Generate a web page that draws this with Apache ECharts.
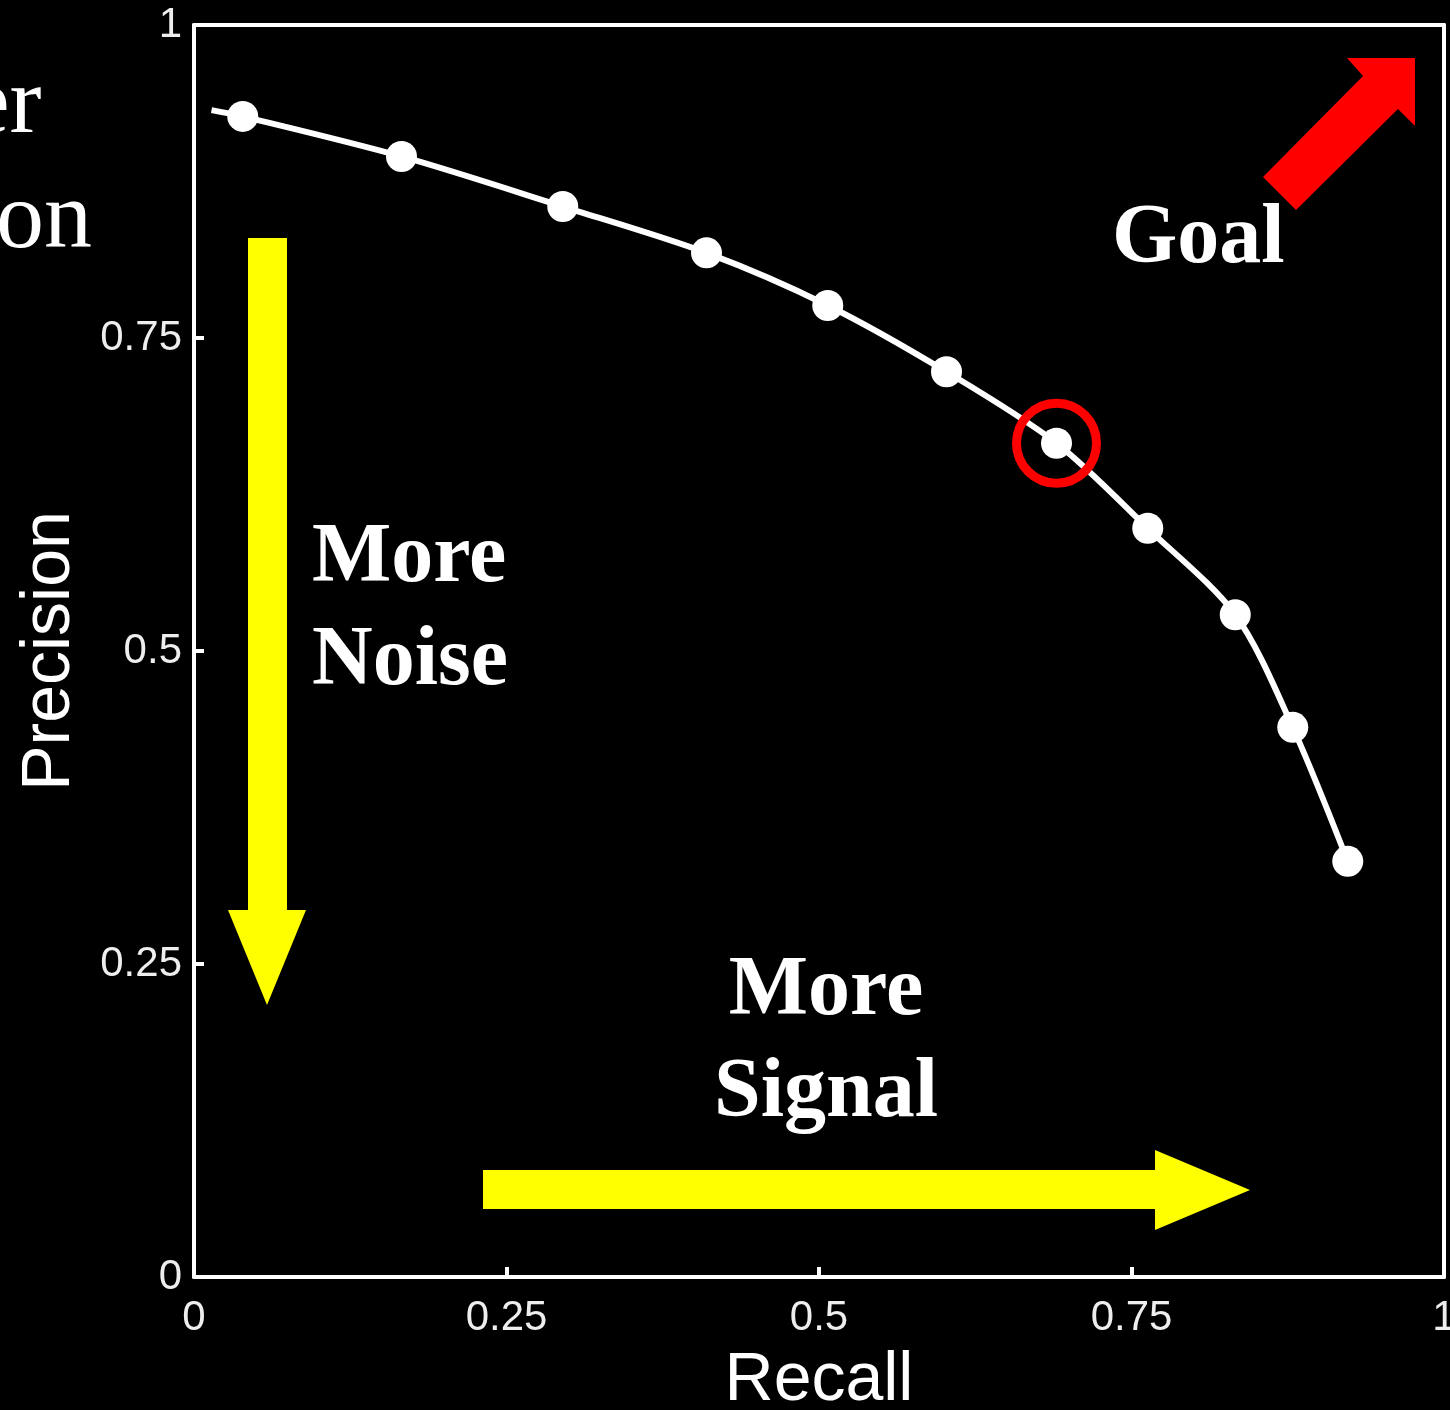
<!DOCTYPE html>
<html>
<head>
<meta charset="utf-8">
<script src="https://cdn.jsdelivr.net/npm/echarts@6/dist/echarts.min.js"></script>
<style>
  html, body { margin: 0; padding: 0; background: #000; }
  #main { width: 1450px; height: 1410px; }
</style>
</head>
<body>
<div id="main"></div>
<script>
// precision / recall curve (first point is the line start, no marker)
let recall = [0.014, 0.039, 0.166, 0.295, 0.410, 0.507, 0.602, 0.690, 0.763, 0.833, 0.879, 0.923];
let precision = [0.932, 0.927, 0.895, 0.855, 0.818, 0.776, 0.723, 0.666, 0.598, 0.529, 0.439, 0.332];
let highlight = [0.690, 0.666]; // circled operating point
let ticks = [0, 0.25, 0.5, 0.75, 1];

let chart = echarts.init(document.getElementById('main'));

let curve = recall.map(function (r, i) {
  if (i === 0) {
    return { value: [r, precision[i]], symbol: 'none' };
  }
  return [r, precision[i]];
});

function tickLabel(v) {
  return ticks.indexOf(v) >= 0 ? String(v) : '';
}

let axisCommon = {
  type: 'value',
  min: 0,
  max: 1,
  interval: 0.25,
  splitLine: { show: false },
  axisLine: { show: true, onZero: false, lineStyle: { color: '#fff', width: 4 } },
  axisTick: { show: true, inside: true, length: 10, lineStyle: { color: '#fff', width: 4 } },
  nameTextStyle: { color: '#fff', fontFamily: 'Liberation Sans', fontSize: 68 }
};

let option = {
  backgroundColor: '#000',
  animation: false,
  grid: { left: 194, top: 25, right: 6, bottom: 133, containLabel: false, outerBoundsMode: 'none' },
  xAxis: [
    Object.assign({}, axisCommon, {
      position: 'bottom',
      name: 'Recall',
      nameLocation: 'middle',
      nameGap: 70,
      axisLabel: {
        color: '#eee', fontFamily: 'Liberation Sans', fontSize: 42, margin: 20,
        formatter: tickLabel
      }
    }),
    Object.assign({}, axisCommon, {
      position: 'top',
      axisTick: { show: false },
      axisLabel: { show: false }
    })
  ],
  yAxis: [
    Object.assign({}, axisCommon, {
      position: 'left',
      name: 'Precision',
      nameLocation: 'middle',
      nameGap: 110,
      axisLabel: {
        color: '#eee', fontFamily: 'Liberation Sans', fontSize: 42, margin: 12,
        formatter: tickLabel
      }
    }),
    Object.assign({}, axisCommon, {
      position: 'right',
      axisTick: { show: false },
      axisLabel: { show: false }
    })
  ],
  series: [
    {
      type: 'line',
      data: curve,
      smooth: 0.3,
      symbol: 'circle',
      symbolSize: 31,
      showAllSymbol: true,
      lineStyle: { color: '#fff', width: 6 },
      itemStyle: { color: '#fff' },
      z: 3
    },
    {
      type: 'scatter',
      data: [highlight],
      symbol: 'circle',
      symbolSize: 80,
      itemStyle: { color: 'rgba(0,0,0,0)', borderColor: '#ff0000', borderWidth: 9, opacity: 1 },
      z: 4
    }
  ],
  graphic: [
    // yellow arrow: more noise
    {
      type: 'polygon',
      shape: { points: [[248, 238], [287, 238], [287, 910], [306, 910], [267, 1005], [228, 910], [248, 910]] },
      style: { fill: '#ffff00' },
      z: 1
    },
    // yellow arrow: more signal
    {
      type: 'polygon',
      shape: { points: [[483, 1170], [1155, 1170], [1155, 1150], [1250, 1190], [1155, 1230], [1155, 1209], [483, 1209]] },
      style: { fill: '#ffff00' },
      z: 1
    },
    // red goal arrow
    {
      type: 'polygon',
      shape: { points: [[1263, 177], [1363, 76], [1347, 58], [1415, 58], [1415, 126], [1398, 109], [1296, 210]] },
      style: { fill: '#ff0000' },
      z: 1
    },
    { type: 'text', x: 312, y: 559, style: { text: 'More', fill: '#fff', font: 'bold 84px "Liberation Serif"', verticalAlign: 'middle' }, z: 5 },
    { type: 'text', x: 312, y: 662, style: { text: 'Noise', fill: '#fff', font: 'bold 84px "Liberation Serif"', verticalAlign: 'middle' }, z: 5 },
    { type: 'text', x: 826, y: 992, style: { text: 'More', fill: '#fff', font: 'bold 84px "Liberation Serif"', align: 'center', verticalAlign: 'middle' }, z: 5 },
    { type: 'text', x: 826, y: 1094, style: { text: 'Signal', fill: '#fff', font: 'bold 84px "Liberation Serif"', align: 'center', verticalAlign: 'middle' }, z: 5 },
    { type: 'text', x: 1112, y: 240, style: { text: 'Goal', fill: '#fff', font: 'bold 84px "Liberation Serif"', verticalAlign: 'middle' }, z: 5 },
    // cut-off words from the neighbouring slide
    { type: 'text', x: -33, y: 155, style: { text: 'er', fill: '#fff', font: '96px "Liberation Serif"', verticalAlign: 'bottom' }, z: 5 },
    { type: 'text', x: -4, y: 270, style: { text: 'on', fill: '#fff', font: '96px "Liberation Serif"', verticalAlign: 'bottom' }, z: 5 }
  ]
};

chart.setOption(option);
</script>
</body>
</html>
